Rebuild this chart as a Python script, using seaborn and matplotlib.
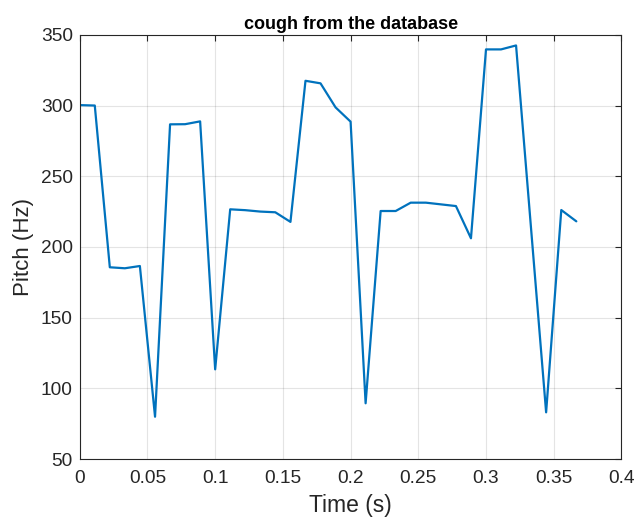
import matplotlib
matplotlib.use("Agg")
import matplotlib.pyplot as plt
import seaborn as sns
import pandas as pd

time_s = [0.0000, 0.0111, 0.0222, 0.0333, 0.0444, 0.0556, 0.0667, 0.0778, 0.0889,
          0.1000, 0.1111, 0.1222, 0.1333, 0.1444, 0.1556, 0.1667, 0.1778, 0.1889,
          0.2000, 0.2111, 0.2222, 0.2333, 0.2444, 0.2556, 0.2667, 0.2778, 0.2889,
          0.3000, 0.3111, 0.3222, 0.3444, 0.3556, 0.3667]
pitch_hz = [300.3, 300.0, 185.6, 184.9, 186.5, 79.9, 286.7, 286.8, 288.8,
            113.4, 226.6, 226.0, 225.0, 224.5, 217.7, 317.5, 315.7, 298.7,
            288.6, 89.4, 225.4, 225.4, 231.3, 231.3, 230.1, 228.9, 206.1,
            339.7, 339.7, 342.5, 83.0, 226.1, 218.1]

x_ticks = [0, 0.05, 0.1, 0.15, 0.2, 0.25, 0.3, 0.35, 0.4]
x_labels = ["0", "0.05", "0.1", "0.15", "0.2", "0.25", "0.3", "0.35", "0.4"]
y_ticks = [50, 100, 150, 200, 250, 300, 350]

sns.set_style("white")
plt.rcParams['font.family'] = ['Liberation Sans', 'DejaVu Sans']

df = pd.DataFrame({"Time (s)": time_s, "Pitch (Hz)": pitch_hz})

fig = plt.figure(figsize=(6.38, 5.2), dpi=100)
ax = fig.add_axes([0.125, 0.1173, 0.849, 0.8157])
sns.lineplot(data=df, x="Time (s)", y="Pitch (Hz)", ax=ax, color="#0072BD",
             linewidth=1.6, sort=False)

ax.set_xlim(0, 0.4)
ax.set_ylim(50, 350)
ax.set_xticks(x_ticks)
ax.set_xticklabels(x_labels)
ax.set_yticks(y_ticks)
ax.grid(True, color="#262626", alpha=0.12, linewidth=0.8)
ax.tick_params(direction="in", top=True, right=True, length=4, width=0.8,
               colors="#262626", labelsize=13.8, labelcolor="#262626")
ax.tick_params(axis="y", pad=5)
ax.tick_params(axis="x", pad=8)
for s in ax.spines.values():
    s.set_color("#262626")
    s.set_linewidth(0.8)
ax.set_xlabel("Time (s)", fontsize=16.5, color="#262626", labelpad=5)
ax.set_ylabel("Pitch (Hz)", fontsize=16, color="#262626", labelpad=5)
ax.set_title("cough from the database", fontsize=13, fontweight="bold",
             color="black", pad=4)

fig.savefig("out.png", dpi=100)
